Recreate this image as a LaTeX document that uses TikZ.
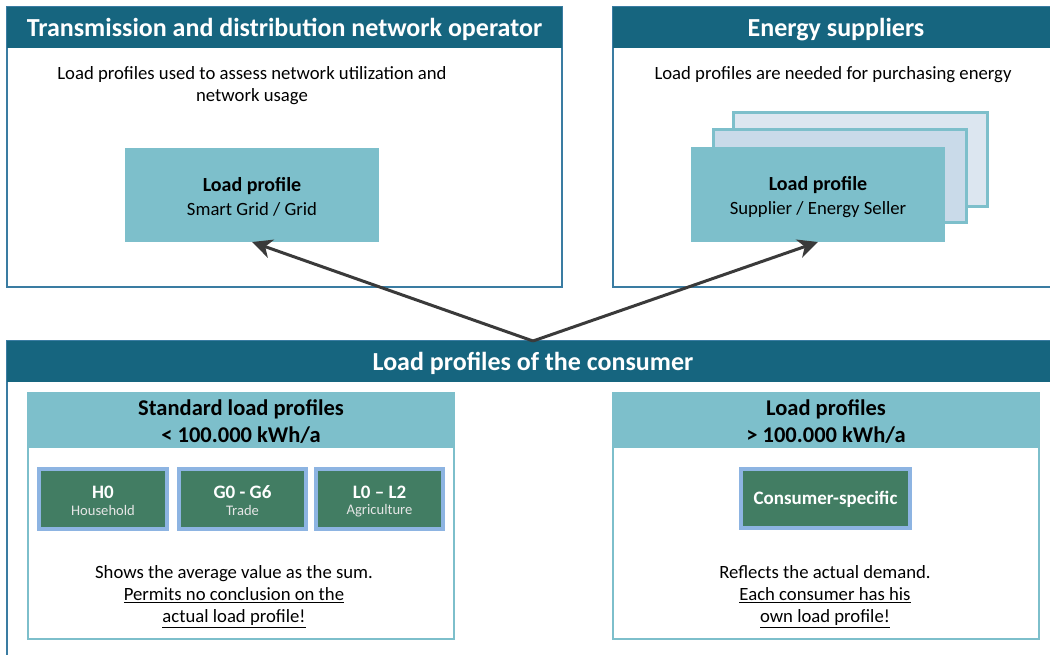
\documentclass[tikz,border=0pt]{standalone}
\usepackage{fontspec}
\setmainfont{Carlito}
\usetikzlibrary{arrows.meta}
\definecolor{hdr}{HTML}{16657F}
\definecolor{boxline}{HTML}{3A7CA2}
\definecolor{teal}{HTML}{7DBFCB}
\definecolor{grn}{HTML}{427D63}
\definecolor{gbord}{HTML}{8DB4E2}
\definecolor{paleA}{HTML}{DCE6F0}
\definecolor{paleB}{HTML}{C9DAE9}
\definecolor{arrc}{HTML}{3A3A3A}
\definecolor{subw}{HTML}{E6E6E6}
\begin{document}
\begin{tikzpicture}[x=1pt,y=-1pt,
  rbox/.style={rectangle, inner sep=0pt, outer sep=0pt, anchor=north west},
  outerbox/.style={rbox, draw=boxline, line width=1.5pt, fill=white},
  hdrbar/.style={rbox, fill=hdr},
  innerbox/.style={rbox, draw=teal, line width=2pt, fill=white},
  innerhdr/.style={rbox, fill=teal},
  lpbox/.style={rbox, fill=teal},
  backbox/.style={rbox, draw=teal, line width=3pt},
  gbox/.style={rbox, fill=grn, draw=gbord, line width=4pt},
  htitle/.style={text=white, font=\fontsize{26}{30}\selectfont\bfseries, inner sep=0pt},
  body/.style={font=\fontsize{18.7}{22}\selectfont, align=center, inner sep=0pt},
  lptext/.style={font=\fontsize{18.7}{24}\selectfont, align=center, inner sep=0pt},
  ititle/.style={font=\fontsize{22.5}{27}\selectfont\bfseries, align=center, inner sep=0pt},
  gtitle/.style={text=white, font=\fontsize{19}{22}\selectfont\bfseries, inner sep=0pt},
  gsub/.style={text=subw, font=\fontsize{14.6}{17}\selectfont, inner sep=0pt},
  arr/.style={draw=arrc, line width=3pt, -{Stealth[length=20pt, width=19pt, inset=6pt]}}
]
\useasboundingbox (0,0) rectangle (1050,655);
\clip (0,0) rectangle (1050,655);

% top left
\node[outerbox, minimum width=555pt, minimum height=280pt] (tso) at (7,7) {};
\node[hdrbar, minimum width=555pt, minimum height=41pt] (tsoh) at (7,7) {};
\node[htitle] (tsot) at (284.5,29.5) {Transmission and distribution network operator};
\node[body] (tsob) at (252,85.5) {Load profiles used to assess network utilization and\\network usage};
\node[lpbox, minimum width=254pt, minimum height=94pt] (lp1) at (125,148) {};
\node[lptext] (lp1t) at (252,197) {\fontsize{20}{24}\selectfont\bfseries Load profile\\Smart Grid / Grid};

% top right
\node[outerbox, minimum width=460pt, minimum height=280pt] (sup) at (613,7) {};
\node[hdrbar, minimum width=460pt, minimum height=41pt] (suph) at (613,7) {};
\node[htitle] (supt) at (836,29.5) {Energy suppliers};
\node[body] (supb) at (833,74.5) {Load profiles are needed for purchasing energy};
\node[backbox, fill=paleA, minimum width=254pt, minimum height=94pt] (bk1) at (733,113) {};
\node[backbox, fill=paleB, minimum width=253pt, minimum height=93pt] (bk2) at (713,130) {};
\node[lpbox, minimum width=254pt, minimum height=95pt] (lp2) at (691,147) {};
\node[lptext] (lp2t) at (818,197) {\fontsize{20}{24}\selectfont\bfseries Load profile\\Supplier / Energy Seller};

% bottom
\node[outerbox, minimum width=1052pt, minimum height=340pt] (con) at (7,341) {};
\node[hdrbar, minimum width=1052pt, minimum height=41pt] (conh) at (7,341) {};
\node[htitle] (cont) at (533,363.5) {Load profiles of the consumer};

% left inner
\node[innerbox, minimum width=426pt, minimum height=246pt] (slp) at (28,393) {};
\node[innerhdr, minimum width=426pt, minimum height=55pt] (slph) at (28,393) {};
\node[ititle] (slpt) at (241,422) {Standard load profiles\\< 100.000 kWh/a};
\node[gbox, minimum width=128pt, minimum height=60pt] (h0) at (39,469) {};
\node[gtitle] at (103,492) {H0};
\node[gsub] at (103,510.5) {Household};
\node[gbox, minimum width=127pt, minimum height=60pt] (g0) at (179,469) {};
\node[gtitle] at (242.5,492) {G0 - G6};
\node[gsub] at (242.5,510.5) {Trade};
\node[gbox, minimum width=127pt, minimum height=60pt] (l0) at (316,469) {};
\node[gtitle] at (379.5,492) {L0 – L2};
\node[gsub] at (379.5,510.5) {Agriculture};
\node[body] (slpb) at (234,597) {Shows the average value as the sum.\\\underline{Permits no conclusion on the}\\\underline{actual load profile!}};

% right inner
\node[innerbox, minimum width=426pt, minimum height=246pt] (ilp) at (613,393) {};
\node[innerhdr, minimum width=426pt, minimum height=55pt] (ilph) at (613,393) {};
\node[ititle] (ilpt) at (826,422) {Load profiles\\> 100.000 kWh/a};
\node[gbox, minimum width=169pt, minimum height=59pt] (cs) at (741,469) {};
\node[gtitle] at ([yshift=-1pt]cs.center) {Consumer-specific};
\node[body] (ilpb) at (825,597) {Reflects the actual demand.\\\underline{Each consumer has his}\\\underline{own load profile!}};

% arrows
\draw[arr] (conh.north) -- (lp1.south);
\draw[arr] (conh.north) -- (lp2.south);
\end{tikzpicture}
\end{document}
